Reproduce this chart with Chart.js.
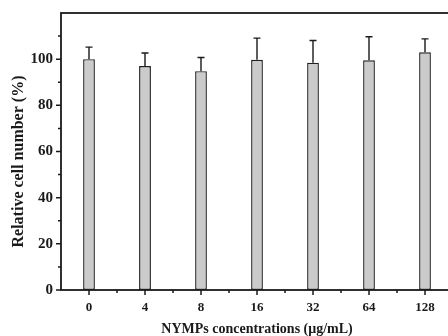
<!DOCTYPE html>
<html>
<head>
<meta charset="utf-8">
<script src="https://cdn.jsdelivr.net/npm/chart.js@4/dist/chart.umd.min.js"></script>
<style>
  html, body { margin: 0; padding: 0; background: #fff; }
  .wrap { width: 448px; height: 336px; overflow: hidden; position: relative; }
  canvas { display: block; }
</style>
</head>
<body>
<div class="wrap"><canvas id="cellChart" width="453" height="336"></canvas></div>
<script>
const concentrations = ["0", "4", "8", "16", "32", "64", "128"];
const cellNumber = [100, 97.0, 94.8, 99.7, 98.5, 99.5, 103.0];
const cellError = [5.2, 5.7, 5.9, 9.4, 9.6, 10.2, 5.8];
const yTicks = [0, 20, 40, 60, 80, 100];
const yMinorTicks = [10, 30, 50, 70, 90, 110];

const serif = "'Liberation Serif', 'Times New Roman', serif";
const ink = "#1a1a1a";

// axes box, tick marks and error bars, drawn on top of the bars
const framePlugin = {
  id: "frame",
  afterDatasetsDraw(chart) {
    const { ctx, chartArea: a, scales: { x, y } } = chart;
    const meta = chart.getDatasetMeta(0);
    ctx.save();
    ctx.strokeStyle = ink;
    ctx.lineCap = "butt";

    // error bars (upper side only)
    ctx.lineWidth = 1.4;
    meta.data.forEach((bar, i) => {
      const top = y.getPixelForValue(cellNumber[i] + cellError[i]);
      const base = y.getPixelForValue(cellNumber[i]);
      ctx.beginPath();
      ctx.moveTo(bar.x, base);
      ctx.lineTo(bar.x, top);
      ctx.moveTo(bar.x - 3.5, top);
      ctx.lineTo(bar.x + 3.5, top);
      ctx.stroke();
    });

    // frame
    ctx.lineWidth = 1.8;
    ctx.strokeRect(a.left, a.top, a.right - a.left, a.bottom - a.top);

    // y ticks (outward)
    ctx.lineWidth = 1.5;
    ctx.beginPath();
    yTicks.forEach(v => {
      const py = y.getPixelForValue(v);
      ctx.moveTo(a.left, py);
      ctx.lineTo(a.left - 5, py);
    });
    yMinorTicks.forEach(v => {
      const py = y.getPixelForValue(v);
      ctx.moveTo(a.left, py);
      ctx.lineTo(a.left - 3, py);
    });
    // x ticks: major at categories, minor between them
    concentrations.forEach((c, i) => {
      const px = x.getPixelForValue(i);
      ctx.moveTo(px, a.bottom);
      ctx.lineTo(px, a.bottom + 5);
      if (i < concentrations.length - 1) {
        const mx = (px + x.getPixelForValue(i + 1)) / 2;
        ctx.moveTo(mx, a.bottom);
        ctx.lineTo(mx, a.bottom + 3);
      }
    });
    ctx.stroke();
    ctx.restore();
  }
};

new Chart(document.getElementById("cellChart"), {
  type: "bar",
  data: {
    labels: concentrations,
    datasets: [{
      data: cellNumber,
      backgroundColor: "#cbcbcb",
      borderColor: "#222",
      borderWidth: 1.4,
      borderSkipped: false,
      categoryPercentage: 1,
      barPercentage: 0.21
    }]
  },
  options: {
    responsive: false,
    animation: false,
    layout: { padding: { top: 13, right: 0, bottom: 0, left: 0 } },
    plugins: { legend: { display: false }, tooltip: { enabled: false } },
    scales: {
      x: {
        grid: { display: false, drawTicks: false },
        border: { display: false },
        ticks: { color: ink, padding: 10, maxRotation: 0, font: { family: serif, weight: "bold", size: 13 } },
        title: {
          display: true,
          text: "NYMPs concentrations (μg/mL)",
          color: ink,
          padding: { top: 0, bottom: 0 },
          font: { family: serif, weight: "bold", size: 14, lineHeight: 1 }
        },
        afterFit(scale) { scale.height = 46; }
      },
      y: {
        min: 0,
        max: 120,
        grid: { display: false, drawTicks: false },
        border: { display: false },
        afterBuildTicks(scale) { scale.ticks = yTicks.map(v => ({ value: v })); },
        ticks: { color: ink, padding: 8, font: { family: serif, weight: "bold", size: 15, lineHeight: 0.5 } },
        title: {
          display: true,
          text: "Relative cell number (%)     ",
          color: ink,
          padding: { top: 9, bottom: 0 },
          font: { family: serif, weight: "bold", size: 16 }
        },
        afterFit(scale) { scale.width = 61; }
      }
    }
  },
  plugins: [framePlugin]
});
</script>
</body>
</html>
